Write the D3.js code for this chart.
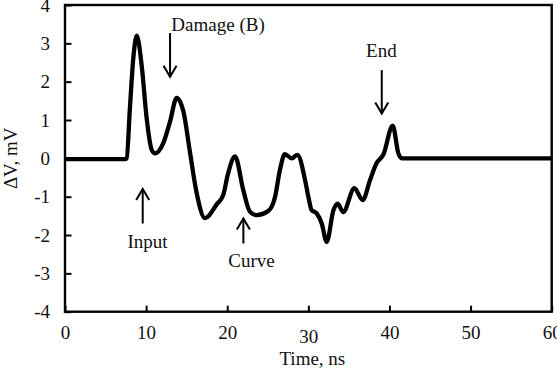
<!DOCTYPE html>
<html>
<head>
<meta charset="utf-8">
<script src="https://cdn.jsdelivr.net/npm/d3@7"></script>
<style>
  html, body { margin: 0; padding: 0; background: #fff; }
  svg { display: block; }
  text { font-family: "Liberation Serif", "Times New Roman", serif; fill: #111; }
</style>
</head>
<body>
<svg id="chart" width="557" height="374"></svg>
<script>
// ---- data ----
const timeNs = [0, 7.4, 7.6, 8.0, 8.42, 8.84, 9.45, 10.07, 10.69, 11.1, 12.1, 12.95, 13.77, 14.6, 15.4, 16.2, 17.26,
  18.7, 19.5, 20.1, 20.96, 21.98, 22.8, 23.6, 25.07, 25.9, 26.5, 27.1, 27.95, 28.65, 29.6, 30.0, 30.4, 31.0, 31.65,
  32.26, 33.1, 33.6, 34.3, 35.67, 36.7, 37.6, 38.4, 39.25, 40.4, 41.1, 41.5, 60];
const deltaV = [-0.02, -0.02, 0.0, 1.30, 2.61, 3.2, 2.43, 1.04, 0.22, 0.13, 0.39, 0.96, 1.58, 1.22, 0.17, -0.87, -1.56,
  -1.2, -0.96, -0.4, 0.05, -0.83, -1.39, -1.48, -1.37, -1.0, -0.3, 0.11, 0.0, 0.09, -0.57, -1.0, -1.35, -1.43, -1.7,
  -2.18, -1.35, -1.18, -1.4, -0.78, -1.09, -0.57, -0.13, 0.1, 0.85, 0.13, 0.0, 0.0];
const xTicks = [0, 10, 20, 30, 40, 50, 60];
const yTicks = [-4, -3, -2, -1, 0, 1, 2, 3, 4];
const xTitle = "Time, ns";
const yTitle = "\u0394V, mV";
// annotations: label, text anchor (t, v), arrow x, arrow tail v, arrow tip v
const annLabels = ["Damage (B)", "Input", "Curve", "End"];
const annTextT = [18.87, 10.17, 23.0, 39.0];
const annTextV = [3.33, -2.34, -2.84, 2.65];
const annArrowT = [12.95, 9.58, 21.99, 39.05];
const annTailV = [3.27, -1.70, -2.22, 2.30];
const annTipV = [2.13, -0.80, -1.57, 1.17];

// ---- layout ----
const svg = d3.select("#chart");
const mLeft = 65, mRight = 551.7, mTop = 5, mBottom = 311.7;
const x = d3.scaleLinear().domain([0, 60]).range([mLeft, mRight]);
const y = d3.scaleLinear().domain([-4, 4]).range([mBottom, mTop]);

// curve
const pts = timeNs.map((t, i) => [t, deltaV[i]]);
svg.append("path")
  .datum(pts)
  .attr("fill", "none")
  .attr("stroke", "#000")
  .attr("stroke-width", 4.3)
  .attr("stroke-linejoin", "round")
  .attr("d", d3.line().x(d => x(d[0])).y(d => y(d[1])).curve(d3.curveMonotoneX));

// frame
svg.append("rect")
  .attr("x", mLeft).attr("y", mTop)
  .attr("width", mRight - mLeft).attr("height", mBottom - mTop)
  .attr("fill", "none").attr("stroke", "#000").attr("stroke-width", 2.4);

// x axis (ticks inward)
const xAxis = svg.append("g").attr("transform", `translate(0,${mBottom})`)
  .call(d3.axisBottom(x).tickValues(xTicks).tickSize(-6).tickPadding(22).tickFormat(d3.format("d")));
xAxis.select(".domain").remove();
xAxis.selectAll(".tick line").attr("stroke", "#000").attr("stroke-width", 2);
xAxis.selectAll(".tick text").attr("font-size", 19).attr("fill", "#111")
  .attr("font-family", "'Liberation Serif', 'Times New Roman', serif")
  .attr("dy", d => d === 30 ? "0.5em" : "0.3em");

// y axis (ticks inward)
const yAxis = svg.append("g").attr("transform", `translate(${mLeft},0)`)
  .call(d3.axisLeft(y).tickValues(yTicks).tickSize(-6.5).tickPadding(15).tickFormat(d3.format("d")));
yAxis.select(".domain").remove();
yAxis.selectAll(".tick line").attr("stroke", "#000").attr("stroke-width", 2);
yAxis.selectAll(".tick text").attr("font-size", 19).attr("fill", "#111")
  .attr("font-family", "'Liberation Serif', 'Times New Roman', serif")
  .text(d => d < 0 ? "-" + Math.abs(d) : d);

// titles
svg.append("text").attr("x", (mLeft + mRight) / 2 + 4).attr("y", 365)
  .attr("text-anchor", "middle").attr("font-size", 19).text(xTitle);
svg.append("text").attr("transform", `translate(17,${(mTop + mBottom) / 2}) rotate(-90)`)
  .attr("text-anchor", "middle").attr("font-size", 19).text(yTitle);

// annotations
annLabels.forEach((lab, i) => {
  svg.append("text").attr("x", x(annTextT[i])).attr("y", y(annTextV[i]))
    .attr("text-anchor", "middle").attr("font-size", 19).text(lab);
  const ax = x(annArrowT[i]), y0 = y(annTailV[i]), y1 = y(annTipV[i]);
  const dir = y1 > y0 ? -1 : 1; // arms go back toward tail
  svg.append("line").attr("x1", ax).attr("x2", ax).attr("y1", y0).attr("y2", y1)
    .attr("stroke", "#000").attr("stroke-width", 2);
  svg.append("path")
    .attr("d", `M${ax - 6.5},${y1 + dir * 11}L${ax},${y1}L${ax + 6.5},${y1 + dir * 11}`)
    .attr("fill", "none").attr("stroke", "#000").attr("stroke-width", 2);
});
</script>
</body>
</html>
